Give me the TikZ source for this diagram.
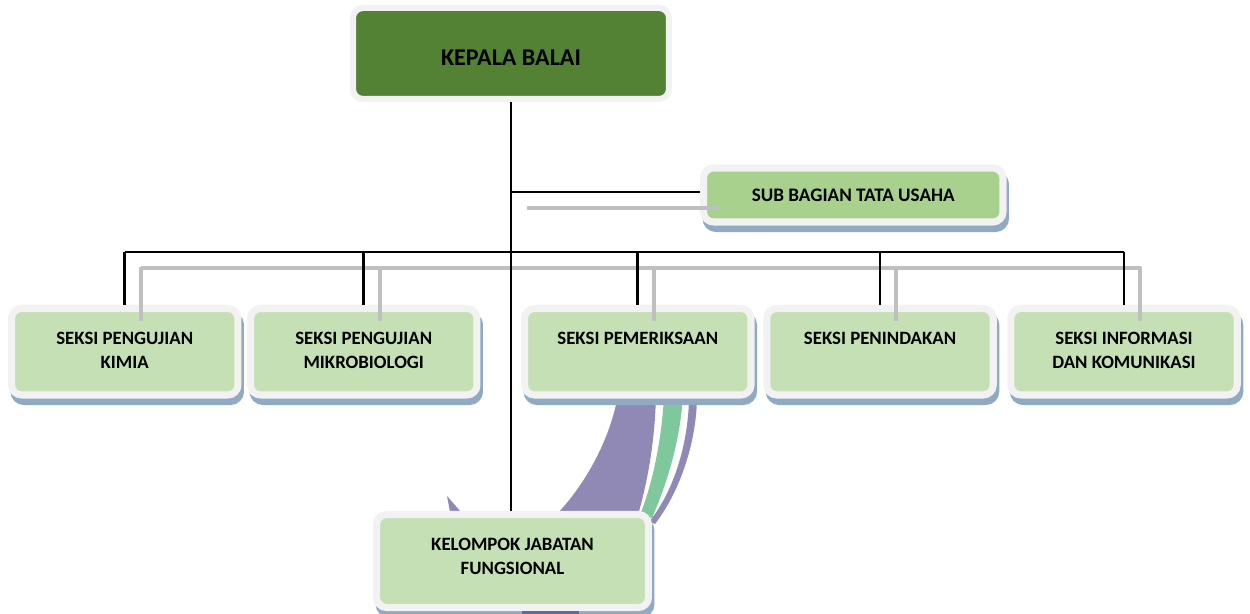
\documentclass[tikz,border=0pt]{standalone}
\usepackage{fontspec}
\setmainfont{Carlito}
\usetikzlibrary{positioning}
\usetikzlibrary{shadows}
\definecolor{hijautua}{HTML}{548235}
\definecolor{hijaumuda}{HTML}{C5E0B4}
\definecolor{hijausedang}{HTML}{A9D18E}
\definecolor{bingkai}{HTML}{F2F2F2}
\definecolor{bayang}{HTML}{8FAAC2}
\definecolor{garisabu}{HTML}{BFBFBF}
\definecolor{ungu}{HTML}{9189B5}
\definecolor{ungugelap}{HTML}{5A6B9C}
\definecolor{hijaupita}{HTML}{7EC89C}
\newcommand*{\lseksi}{4.53cm}
\newcommand*{\tseksi}{1.73cm}
\newcommand*{\baris}{351.75}
\newcommand*{\turun}{0.54cm}
\tikzset{
  kotak/.style={draw=bingkai, line width=4pt, rounded corners=0.2cm, inner sep=0pt},
  bayangan/.style={drop shadow={shadow xshift=0.05cm, shadow yshift=-0.13cm, fill=bayang, draw=bayang, opacity=1}},
  seksi/.style={kotak, bayangan, fill=hijaumuda, minimum width=\lseksi, minimum height=\tseksi},
  judul/.style={font=\bfseries\fontsize{10.7}{13.6}\selectfont, align=center, inner sep=0pt},
  garis/.style={draw=black, line width=1.5pt},
  garisbayang/.style={draw=garisabu, line width=2.2pt},
}

\begin{document}
\begin{tikzpicture}[x=0.02cm, y=-0.02cm]
    \useasboundingbox (0,0) rectangle (1250,614);
    % pita di belakang kelompok jabatan
    \fill [ungu] (618,395) .. controls (610,440) and (585,485) .. (556,515) -- (638,515) .. controls (648,480) and (655,440) .. (656,395) -- cycle;
    \fill [hijaupita] (664,395) .. controls (662,440) and (652,485) .. (640,515) -- (652,518) .. controls (665,488) and (680,445) .. (683,395) -- cycle;
    \fill [ungu] (689,395) .. controls (689,440) and (675,490) .. (649,522) -- (655,524) .. controls (681,490) and (697,440) .. (697,395) -- cycle;
    \fill [ungu] (447,496) -- (461,512) -- (450,512) -- cycle;

    \node [kotak, line width=3.4pt, fill=hijautua, minimum width=6.32cm, minimum height=1.82cm] (kepala) at (511,53.5) {};
    \node [kotak, bayangan, fill=hijausedang, minimum width=5.99cm, minimum height=1.08cm] (tu) at (853.25,195) {};
    \node [seksi] (kimia)   at (124.75,\baris) {};
    \node [seksi] (mikro)   at (363.75,\baris) {};
    \node [seksi] (periksa) at (637.75,\baris) {};
    \node [seksi] (tindak)  at (880,\baris) {};
    \node [seksi] (infokom) at (1124,\baris) {};
    \node [seksi, minimum width=5.44cm, minimum height=1.86cm] (jabfung) at (512.5,561) {};
    \fill [ungugelap] (522,611) rectangle (579,614);

    \node [judul, font=\bfseries\fontsize{13.7}{16}\selectfont] (kepalateks) at ([yshift=-0.09cm]kepala.center) {KEPALA BALAI};
    \node [judul, font=\bfseries\fontsize{10.9}{13.6}\selectfont] (tuteks) at (tu) {SUB BAGIAN TATA USAHA};
    \node [judul, below=\turun of kimia.north]   (kimiateks)   {SEKSI PENGUJIAN\\KIMIA};
    \node [judul, below=\turun of mikro.north]   (mikroteks)   {SEKSI PENGUJIAN\\MIKROBIOLOGI};
    \node [judul, below=\turun of periksa.north] (periksateks) {SEKSI PEMERIKSAAN};
    \node [judul, below=\turun of tindak.north]  (tindakteks)  {SEKSI PENINDAKAN};
    \node [judul, below=\turun of infokom.north] (infokomteks) {SEKSI INFORMASI\\DAN KOMUNIKASI};
    \node [judul, below=\turun of jabfung.north] (jabfungteks) {KELOMPOK JABATAN\\FUNGSIONAL};

    \coordinate (cabangtu) at (511,192);
    \coordinate (bus) at (511,252);
    \draw [garisbayang] (cabangtu) ++(16,16) -- ++(193,0);
    \draw [garisbayang] (kimia.north |- bus) ++(16,16) -- ++(1000,0);
    \foreach \k in {kimia,mikro,periksa,tindak,infokom}
        \draw [garisbayang] (\k.north) ++(16,-38) -- ++(0,54);

    \draw [garis] (kepala.south) -- (jabfung.north -| kepala.south);
    \draw [garis] (cabangtu) -- (cabangtu -| tu.west);
    \draw [garis] (kimia.north |- bus) -- (infokom.north |- bus);
    \foreach \k in {kimia,mikro,periksa,tindak,infokom}
        \draw [garis] (\k.north) -- (\k.north |- bus);
\end{tikzpicture}
\end{document}
